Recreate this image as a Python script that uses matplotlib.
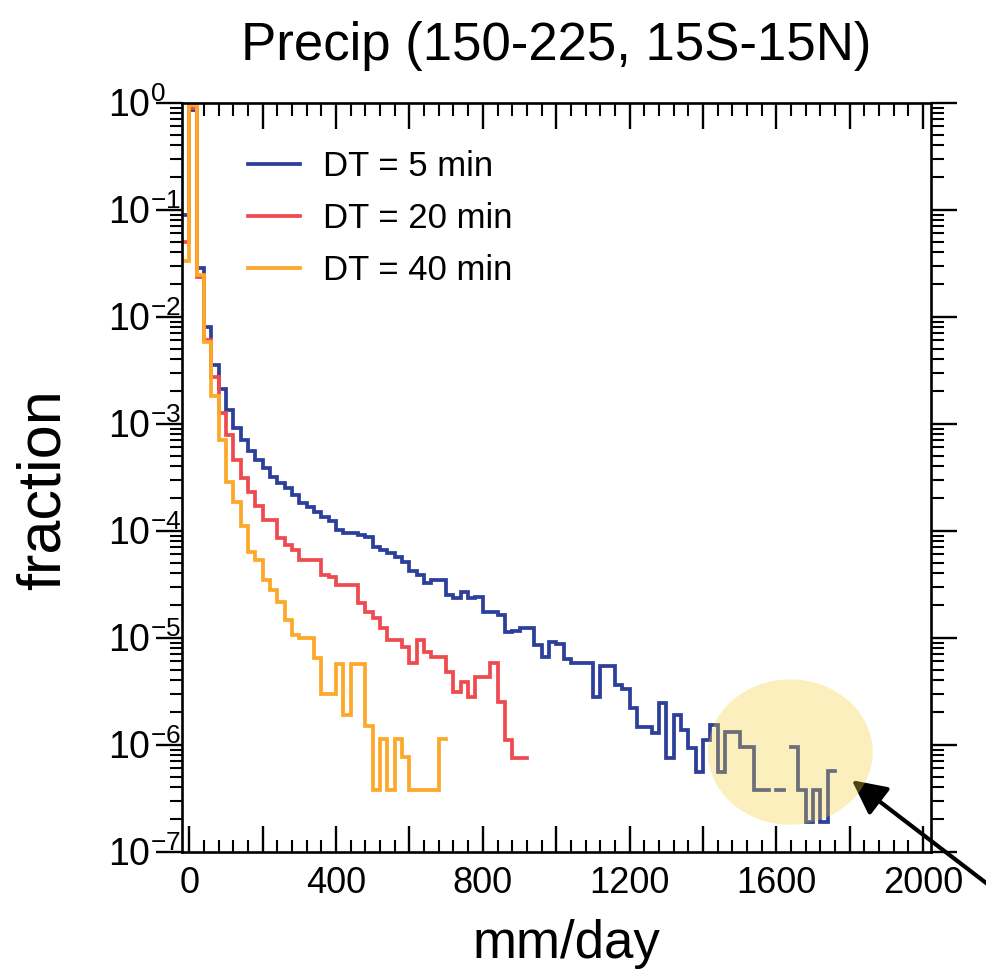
import numpy as np
import matplotlib
matplotlib.use("Agg")
import matplotlib.pyplot as plt
from matplotlib.patches import Ellipse
from matplotlib.ticker import MultipleLocator, LogLocator, FuncFormatter, NullFormatter

plt.rcParams['font.family'] = ['Liberation Sans', 'DejaVu Sans']
plt.rcParams['mathtext.fontset'] = 'custom'
plt.rcParams['mathtext.rm'] = 'Liberation Sans'
plt.rcParams['mathtext.default'] = 'regular'

# histogram bins (mm/day), width 20, first bin starts at -20
bin_width = 20
bin_start = -20

dt5 = [8.9e-2, 0.85, 2.83e-2, 8.07e-3, 3.57e-3, 2.10e-3, 1.34e-3, 9.06e-4, 7.05e-4, 5.60e-4,
       4.58e-4, 3.83e-4, 3.20e-4, 2.81e-4, 2.49e-4, 2.16e-4, 1.80e-4, 1.68e-4, 1.51e-4, 1.33e-4,
       1.24e-4, 1.02e-4, 9.6e-5, 9.5e-5, 9.1e-5, 8.8e-5, 7.0e-5, 6.6e-5, 6.15e-5, 5.7e-5,
       5.1e-5, 4.2e-5, 3.85e-5, 3.22e-5, 3.46e-5, 3.46e-5, 2.51e-5, 2.33e-5, 2.69e-5, 2.33e-5,
       2.42e-5, 1.75e-5, 1.75e-5, 1.63e-5, 1.14e-5, 1.16e-5, 1.24e-5, 1.24e-5, 8.55e-6, 6.65e-6,
       9.2e-6, 8.73e-6, 6.28e-6, 5.84e-6, 5.84e-6, 5.77e-6, 2.81e-6, 5.47e-6, 5.47e-6, 3.61e-6,
       3.30e-6, 2.19e-6, 1.47e-6, 1.47e-6, 1.28e-6, 2.44e-6, 7.46e-7, 1.90e-6, 1.37e-6, 9.25e-7,
       5.6e-7, 1.11e-6, 1.53e-6, 5.6e-7, 1.32e-6, 1.32e-6, 9.5e-7, 9.5e-7, 3.8e-7, 3.8e-7,
       np.nan, 3.8e-7, np.nan, 9.5e-7, 3.8e-7, 1.9e-7, 3.8e-7, 1.9e-7, 5.7e-7]

dt20 = [5.0e-2, 0.9, 2.37e-2, 6.05e-3, 2.72e-3, 1.27e-3, 7.84e-4, 4.58e-4, 3.09e-4, 2.31e-4,
        1.70e-4, 1.26e-4, 1.26e-4, 8.5e-5, 7.35e-5, 6.6e-5, 5.3e-5, 5.3e-5, 5.3e-5, 3.85e-5,
        3.7e-5, 3.1e-5, 3.1e-5, 3.1e-5, 2.1e-5, 1.75e-5, 1.52e-5, 1.22e-5, 9.5e-6, 9.5e-6,
        8.2e-6, 5.75e-6, 9.5e-6, 7.4e-6, 6.65e-6, 6.65e-6, 4.81e-6, 3.13e-6, 3.88e-6, 2.81e-6,
        4.32e-6, 4.32e-6, 5.77e-6, 2.52e-6, 1.11e-6, 7.46e-7, 7.46e-7]

dt40 = [3.3e-2, 0.95, 2.45e-2, 5.84e-3, 1.82e-3, 7.05e-4, 2.87e-4, 1.87e-4, 1.11e-4, 6.28e-5,
        5.32e-5, 3.46e-5, 2.79e-5, 2.17e-5, 1.46e-5, 1.06e-5, 9.86e-6, 9.86e-6, 6.5e-6, 3.0e-6,
        3.0e-6, 5.7e-6, 1.9e-6, 5.7e-6, 5.7e-6, 1.5e-6, 3.8e-7, 1.14e-6, 3.8e-7, 1.14e-6,
        7.6e-7, 3.8e-7, 3.8e-7, 3.8e-7, 3.8e-7, 1.14e-6]

labels = ['DT = 5 min', 'DT = 20 min', 'DT = 40 min']
colors = ['#2b3f9b', '#ee4b50', '#fca92a']
yticks = [1e-7, 1e-6, 1e-5, 1e-4, 1e-3, 1e-2, 1e-1, 1]

fig = plt.figure(figsize=(9.87, 9.74), dpi=100)
ax = fig.add_axes([0.1844, 0.1256, 0.759, 0.769])

for vals, lab, col in zip([dt5, dt20, dt40], labels, colors):
    v = np.array(vals, dtype=float)
    edges = bin_start + bin_width * np.arange(len(v) + 1)
    ax.step(edges, np.append(v, v[-1]), where='post', color=col, lw=2.7,
            label=lab, solid_joinstyle='miter')

ax.set_yscale('log')
ax.set_ylim(1e-7, 1)
ax.set_xlim(-20, 2022)

ax.xaxis.set_major_locator(MultipleLocator(200))
ax.xaxis.set_minor_locator(MultipleLocator(40))
ax.xaxis.set_major_formatter(FuncFormatter(lambda x, p: '%d' % x if int(round(x)) % 400 == 0 else ''))
ax.set_yticks(yticks)
ax.yaxis.set_minor_locator(LogLocator(base=10, subs=np.arange(2, 10), numticks=20))
ax.yaxis.set_minor_formatter(NullFormatter())

ax.tick_params(axis='x', which='both', direction='in', top=True, bottom=True, labelsize=26, pad=10)
ax.tick_params(axis='x', which='major', length=19, width=1.7)
ax.tick_params(axis='x', which='minor', length=9, width=1.5)
ax.tick_params(axis='y', which='both', direction='out', left=True, right=True, labelsize=27, pad=34)
ax.tick_params(axis='y', which='major', length=19, width=1.7)
ax.tick_params(axis='y', which='minor', length=9, width=1.5)
for lbl in ax.get_yticklabels():
    lbl.set_horizontalalignment('left')
for s in ax.spines.values():
    s.set_linewidth(1.9)

ax.set_xlabel('mm/day', fontsize=38)
ax.xaxis.set_label_coords(0.513, -0.09)
ax.set_ylabel('fraction', fontsize=44)
ax.yaxis.set_label_coords(-0.146, 0.484)
fig.text(0.5638, 1 - 46 / 974, 'Precip (150-225, 15S-15N)', fontsize=38, ha='center', va='center')

ax.legend(loc='upper left', bbox_to_anchor=(0.069, 0.955), frameon=False, fontsize=25,
          handlelength=1.5, handletextpad=0.66, labelspacing=0.54, borderaxespad=0)

ax.add_patch(Ellipse((0.812, 0.133), 0.22, 0.194, transform=ax.transAxes,
                     facecolor='#f5d03a', edgecolor='none', alpha=0.33, zorder=5))
ax.annotate('', xy=(0.863, 0.199), xycoords='figure fraction', xytext=(1.01, 0.085),
            textcoords='figure fraction', annotation_clip=False,
            arrowprops=dict(arrowstyle='-|>,head_length=0.7,head_width=0.35', lw=3,
                            color='black', mutation_scale=30, shrinkA=0, shrinkB=0))

fig.savefig('out.png', dpi=100)
